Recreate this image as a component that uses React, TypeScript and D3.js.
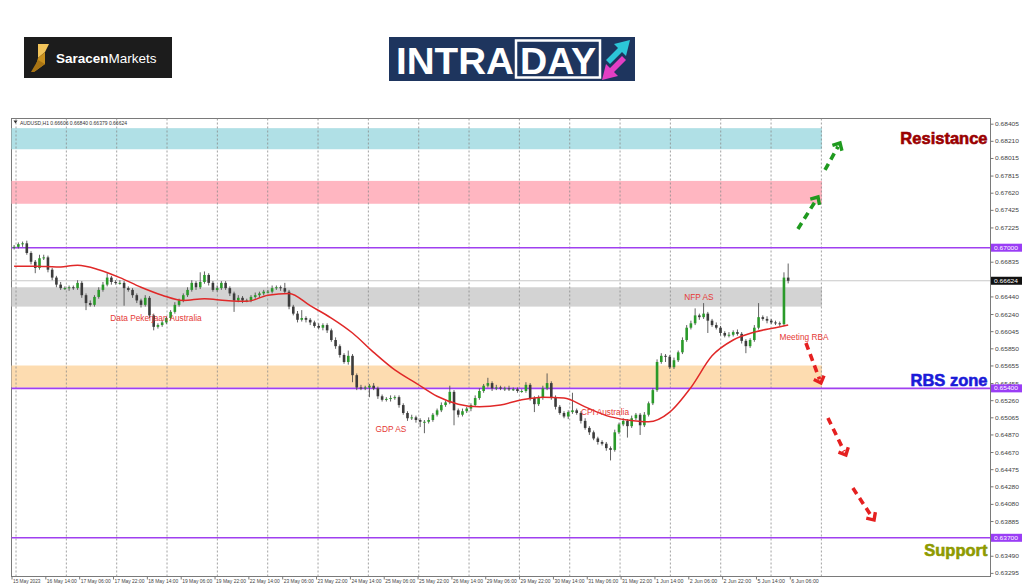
import React from "react";
import * as d3 from "d3";

const W = 1024;
const H = 587;

// ---------- DATA ----------
const symbolHeader = "AUDUSD,H1  0.66606 0.66840 0.66379 0.66624";
const firstOpen = 0.67;
// 2-hour candles (close prices)
const closes = [
  0.6701, 0.6704, 0.6705, 0.6694, 0.6684, 0.6677, 0.6688, 0.6689, 0.6675, 0.6666,
  0.6658, 0.6654, 0.6654, 0.6655, 0.6654, 0.666, 0.6646, 0.6637, 0.6635, 0.6644,
  0.6652, 0.6658, 0.6666, 0.6661, 0.666, 0.666, 0.6654, 0.6652, 0.6646, 0.664,
  0.6635, 0.6643, 0.6623, 0.661, 0.6612, 0.6615, 0.662, 0.6627, 0.6635, 0.664,
  0.6646, 0.6652, 0.666, 0.6655, 0.6661, 0.6669, 0.666, 0.6652, 0.6654, 0.666,
  0.6654, 0.6648, 0.664, 0.6643, 0.664, 0.664, 0.6644, 0.6646, 0.6648, 0.665,
  0.665, 0.6654, 0.6655, 0.6654, 0.665, 0.6633, 0.6625, 0.6618, 0.662, 0.6618,
  0.6615, 0.6611, 0.6609, 0.6612, 0.6606, 0.6595, 0.6588, 0.6578, 0.657, 0.6577,
  0.6555, 0.6541, 0.654, 0.6541, 0.6543, 0.654, 0.6531, 0.6527, 0.6528, 0.6529,
  0.653, 0.6521, 0.6512, 0.6506, 0.6507, 0.6504, 0.6502, 0.6502, 0.6504, 0.651,
  0.6515, 0.6521, 0.6524, 0.6536, 0.6515, 0.651, 0.6514, 0.6517, 0.6521, 0.6529,
  0.6537, 0.6543, 0.6546, 0.654, 0.6541, 0.654, 0.654, 0.6539, 0.6539, 0.6537,
  0.6537, 0.6544, 0.6529, 0.6522, 0.6529, 0.654, 0.6546, 0.653, 0.6519, 0.6512,
  0.6508, 0.6513, 0.6515, 0.6512, 0.6503, 0.6495, 0.649, 0.6483, 0.6479, 0.6477,
  0.6472, 0.647, 0.649, 0.6499, 0.6503, 0.6497, 0.6506, 0.651, 0.6498, 0.651,
  0.6523, 0.6538, 0.657, 0.6577, 0.6576, 0.6564, 0.6572, 0.6581, 0.6595, 0.6609,
  0.6614, 0.6623, 0.6621, 0.6625, 0.6617, 0.6612, 0.6609, 0.6603, 0.66, 0.6601,
  0.6604, 0.6602, 0.6594, 0.6588, 0.6595, 0.6609, 0.6621, 0.6619, 0.6617, 0.6615,
  0.6614, 0.6613, 0.6666, 0.66624,
];
// wick extensions in pips
const wickUp = [
  2, 2, 2, 3, 2, 2, 4, 3, 2, 2,
  2, 3, 2, 2, 2, 3, 2, 2, 3, 2,
  3, 3, 5, 2, 2, 3, 2, 2, 2, 2,
  2, 3, 2, 2, 2, 3, 2, 2, 3, 2,
  2, 3, 3, 2, 11, 4, 2, 2, 3, 2,
  2, 2, 2, 3, 2, 2, 2, 3, 2, 2,
  2, 3, 2, 2, 6, 2, 2, 3, 9, 2,
  2, 2, 3, 2, 2, 2, 3, 2, 2, 6,
  2, 2, 3, 2, 2, 3, 2, 2, 2, 3,
  2, 2, 2, 2, 3, 2, 2, 2, 3, 2,
  2, 3, 2, 7, 2, 2, 3, 2, 2, 3,
  3, 2, 6, 2, 3, 2, 2, 3, 2, 2,
  2, 3, 2, 2, 3, 3, 11, 2, 2, 2,
  2, 2, 20, 2, 2, 3, 2, 2, 2, 2,
  2, 2, 3, 2, 3, 2, 3, 2, 2, 3,
  2, 2, 3, 3, 2, 2, 3, 2, 3, 3,
  3, 8, 2, 12, 2, 2, 3, 2, 2, 3,
  2, 3, 2, 2, 2, 3, 16, 2, 3, 2,
  2, 2, 6, 16,
];
const wickDn = [
  2, 2, 3, 2, 3, 6, 2, 2, 3, 3,
  3, 2, 2, 3, 2, 2, 3, 8, 2, 2,
  2, 2, 2, 3, 2, 2, 20, 2, 3, 3,
  3, 2, 3, 4, 2, 2, 2, 3, 2, 2,
  2, 2, 2, 3, 2, 2, 3, 2, 2, 2,
  2, 3, 13, 2, 3, 2, 2, 2, 3, 2,
  2, 2, 2, 3, 2, 3, 2, 3, 2, 3,
  3, 2, 2, 3, 3, 2, 3, 3, 2, 3,
  8, 3, 2, 2, 11, 2, 3, 2, 2, 3,
  2, 3, 2, 3, 2, 3, 6, 13, 2, 2,
  2, 2, 2, 2, 17, 3, 2, 2, 3, 2,
  2, 2, 2, 3, 2, 2, 3, 2, 2, 2,
  2, 2, 3, 9, 2, 2, 2, 3, 3, 2,
  2, 3, 2, 2, 3, 2, 3, 2, 3, 2,
  3, 12, 2, 2, 2, 13, 2, 2, 11, 2,
  2, 2, 2, 2, 6, 2, 2, 2, 2, 2,
  2, 2, 3, 2, 14, 2, 2, 3, 2, 2,
  2, 2, 3, 8, 2, 2, 2, 2, 3, 2,
  2, 2, 2, 3,
];
// moving average (sampled at candle indices)
const maIdx = [0, 5, 10, 15, 20, 25, 30, 35, 40, 45, 50, 55, 60, 65, 70, 75, 80, 85, 90, 95, 100, 105, 110, 115, 120, 125, 130, 135, 140, 145, 150, 155, 160, 165, 170, 175, 180, 183];
const maVals = [0.6679, 0.6679, 0.6678, 0.668, 0.6675, 0.6666, 0.6655, 0.6646, 0.664, 0.6642, 0.664, 0.6639, 0.6646, 0.6648, 0.6634, 0.662, 0.6603, 0.6581, 0.6561, 0.6546, 0.6531, 0.6522, 0.6519, 0.6521, 0.6527, 0.653, 0.6529, 0.6519, 0.6509, 0.6504, 0.6502, 0.6513, 0.6541, 0.6577, 0.6595, 0.6604, 0.6609, 0.6612];

const timeLabels = [
  "15 May 2023", "16 May 14:00", "17 May 06:00", "17 May 22:00", "18 May 14:00", "19 May 06:00",
  "19 May 22:00", "22 May 14:00", "23 May 06:00", "23 May 22:00", "24 May 14:00", "25 May 06:00",
  "25 May 22:00", "26 May 14:00", "29 May 06:00", "29 May 22:00", "30 May 14:00", "31 May 06:00",
  "31 May 22:00", "1 Jun 14:00", "2 Jun 06:00", "2 Jun 22:00", "5 Jun 14:00", "6 Jun 06:00",
];
const labelEveryBars = 16;
const priceTicks = [
  0.68405, 0.6821, 0.68015, 0.67815, 0.6762, 0.67425, 0.67225, 0.66835, 0.6644, 0.6624,
  0.66045, 0.6585, 0.65655, 0.65455, 0.6526, 0.65065, 0.6487, 0.6467, 0.64475, 0.6428,
  0.6408, 0.63885, 0.6349, 0.63295,
];
const levelLines = [0.67, 0.654, 0.637];
const currentPrice = 0.66624;

const zoneHigh = [0.6836, 0.6776, 0.6655, 0.6566];
const zoneLow = [0.6812, 0.675, 0.6633, 0.6541];
const zoneEndBar = 383;

const gridStartBar = 1.9;
const gridStepBars = 23.8;
const gridCount = 17;

const eventText = ["Data Pekerjaan Australia", "GDP AS", "CPI Australia", "NFP AS", "Meeting RBA"];
const eventBar = [68.1, 179.2, 280.4, 324.8, 374.5];
const eventPrice = [0.662, 0.64934, 0.65134, 0.66436, 0.65981];

const zoneTitles = ["Resistance", "RBS zone", "Support"];
const zoneTitlePrice = [0.68248, 0.65495, 0.63561];

// arrows: [fromBar, fromPrice, toBar, toPrice]
const upArrows = [
  [371.6, 0.67213, 381.1, 0.67577],
  [384.4, 0.67884, 391.5, 0.68191],
];
const downArrows = [
  [375.4, 0.65916, 382.5, 0.65461],
  [385.8, 0.65063, 394.3, 0.64642],
  [397.6, 0.64266, 407.6, 0.63902],
];

// ---------- STYLE ----------
const zoneColors = ["#b0e0e6", "#ffb6c1", "#d3d3d3", "#fddcb0"];
const titleColors = ["#9a0000", "#1a1ad8", "#8e9a00"];
const purple = "#a040f0";
const font = "'Liberation Sans', Arial, sans-serif";

export default function App() {
  const left = 11.5, right = 990.5, top = 118.5, bottom = 576.5;
  const x = d3.scaleLinear().domain([0, 368]).range([12, 790.3]);
  const y = d3.scaleLinear().domain([0.63295, 0.68405]).range([573.4, 124.2]);

  const candles = closes.map((c, k) => {
    const o = k === 0 ? firstOpen : closes[k - 1];
    const hi = Math.max(o, c) + wickUp[k] * 1e-4;
    const lo = Math.min(o, c) - wickDn[k] * 1e-4;
    return { k, o, c, hi, lo };
  });

  const maLine = d3
    .line<number>()
    .x((_, i) => x(2 * maIdx[i] + 1))
    .y((v) => y(v))
    .curve(d3.curveMonotoneX)(maVals);

  const gridXs = d3.range(gridCount).map((j) => x(gridStartBar + j * gridStepBars));

  const arrow = (a: number[], color: string, key: string) => {
    const x1 = x(a[0]), y1 = y(a[1]), x2 = x(a[2]), y2 = y(a[3]);
    const ang = Math.atan2(y2 - y1, x2 - x1);
    const hl = 8;
    const sx = x2 - Math.cos(ang) * 4, sy = y2 - Math.sin(ang) * 4;
    const p1 = [x2 - hl * Math.cos(ang - 0.75), y2 - hl * Math.sin(ang - 0.75)];
    const p2 = [x2 - hl * Math.cos(ang + 0.75), y2 - hl * Math.sin(ang + 0.75)];
    return (
      <g key={key}>
        <line x1={x1} y1={y1} x2={sx} y2={sy} stroke={color} strokeWidth={3.6} strokeDasharray="7 5" />
        <path d={`M${p1[0]},${p1[1]} L${x2},${y2} L${p2[0]},${p2[1]}`} fill="none" stroke={color} strokeWidth={3.4} strokeLinejoin="miter" />
      </g>
    );
  };

  return (
    <svg width={W} height={H} style={{ position: "absolute", left: 0, top: 0, background: "#fff" }} fontFamily={font}>
      <rect x={0} y={0} width={W} height={H} fill="#fff" />

      {/* Logos */}
      <g>
        <rect x={24} y={37} width={148} height={41} fill="#1c1c1c" />
        <path d="M38,44 L49,44 L45,52 L38,58 Z" fill="#f2c45a" />
        <path d="M38,58 L45,52 L45,64 L34,72 Z" fill="#c8901e" />
        <path d="M45,64 L34,72 L31,72 L38,60 Z" fill="#a87414" />
        <text x={56} y={63} fontSize={13.5} fill="#fff">
          <tspan fontWeight="bold">Saracen</tspan>
          <tspan>Markets</tspan>
        </text>
        <rect x={389} y={37} width={246} height={44} fill="#1e355e" />
        <text x={396} y={74} fontSize={37} fontWeight="bold" fill="#fff" textLength={118} lengthAdjust="spacingAndGlyphs">INTRA</text>
        <rect x={516} y={40.5} width={84} height={37} fill="none" stroke="#fff" strokeWidth={2.5} />
        <text x={558} y={74} fontSize={37} fontWeight="bold" fill="#fff" textAnchor="middle" textLength={76} lengthAdjust="spacingAndGlyphs">DAY</text>
        <path d="M606,60 L618,48 L614,44 L630,40 L626,56 L622,52 L610,64 Z" fill="#2cc6d8" />
        <path d="M626,60 L614,72 L618,76 L602,80 L606,64 L610,68 L622,56 Z" fill="#e33fc4" />
      </g>

      {/* Chart frame */}
      <rect x={left} y={top} width={right - left} height={bottom - top} fill="#fff" stroke="#7a7a7a" strokeWidth={1} />

      {/* Zones */}
      {zoneHigh.map((h, i) => (
        <rect key={`z${i}`} x={x(0) - 0.5} y={y(h)} width={x(zoneEndBar) - x(0) + 0.5} height={y(zoneLow[i]) - y(h)} fill={zoneColors[i]} />
      ))}

      {/* Vertical grid */}
      {gridXs.map((gx, i) => (
        <line key={`g${i}`} x1={gx} x2={gx} y1={top} y2={bottom} stroke="#8a8a8a" strokeWidth={0.8} strokeDasharray="2 2" />
      ))}

      {/* current price line */}
      <line x1={left} x2={right} y1={y(currentPrice)} y2={y(currentPrice)} stroke="#c8c8c8" strokeWidth={1} />

      {/* level lines */}
      {levelLines.map((v, i) => (
        <line key={`l${i}`} x1={left} x2={right} y1={y(v)} y2={y(v)} stroke={purple} strokeWidth={1.6} />
      ))}

      {/* Candles */}
      {candles.map((d) => {
        const cx = x(2 * d.k + 1);
        const bull = d.c >= d.o;
        const yt = y(Math.max(d.o, d.c));
        const yb = y(Math.min(d.o, d.c));
        return (
          <g key={`c${d.k}`}>
            <line x1={cx} x2={cx} y1={y(d.hi)} y2={y(d.lo)} stroke="#505050" strokeWidth={0.9} />
            <rect x={cx - 1.3} y={yt} width={2.6} height={Math.max(1, yb - yt)} fill={bull ? "#2a9a2a" : "#3c3c3c"} />
          </g>
        );
      })}

      {/* Moving average */}
      <path d={maLine || ""} fill="none" stroke="#e02828" strokeWidth={1.5} />

      {/* Event labels */}
      {eventText.map((t, i) => (
        <text key={`e${i}`} x={x(eventBar[i])} y={y(eventPrice[i]) + 3} fontSize={8.3} fill="#e53935" textAnchor="middle">{t}</text>
      ))}

      {/* Arrows */}
      {upArrows.map((a, i) => arrow(a, "#1f9a1f", `ua${i}`))}
      {downArrows.map((a, i) => arrow(a, "#e52020", `da${i}`))}

      {/* Zone titles */}
      {zoneTitles.map((t, i) => (
        <text key={`t${i}`} x={right - 3} y={y(zoneTitlePrice[i]) + 6} fontSize={16.5} fontWeight="bold" fill={titleColors[i]} stroke={titleColors[i]} strokeWidth={0.6} textAnchor="end">{t}</text>
      ))}

      {/* header */}
      <path d={`M13.5,120.5 L17.5,120.5 L15.5,123.5 Z`} fill="#333" />
      <text x={20} y={124.5} fontSize={5.6} fill="#333" textLength={107} lengthAdjust="spacingAndGlyphs">{symbolHeader}</text>

      {/* Right axis */}
      <line x1={right} x2={right} y1={top} y2={bottom} stroke="#7a7a7a" />
      {priceTicks.map((v, i) => (
        <g key={`p${i}`}>
          <line x1={right} x2={right + 3} y1={y(v)} y2={y(v)} stroke="#7a7a7a" />
          <text x={right + 4.5} y={y(v) + 2} fontSize={5.8} fill="#444" textLength={24} lengthAdjust="spacingAndGlyphs">{v.toFixed(5)}</text>
        </g>
      ))}
      {levelLines.map((v, i) => (
        <g key={`pl${i}`}>
          <rect x={right + 0.5} y={y(v) - 4} width={31} height={8} fill="#9a3df5" />
          <text x={right + 3.5} y={y(v) + 2} fontSize={5.8} fill="#fff" textLength={24} lengthAdjust="spacingAndGlyphs">{v.toFixed(5)}</text>
        </g>
      ))}
      <rect x={right + 0.5} y={y(currentPrice) - 4} width={31} height={8} fill="#111" />
      <text x={right + 3.5} y={y(currentPrice) + 2} fontSize={5.8} fill="#fff" textLength={24} lengthAdjust="spacingAndGlyphs">{currentPrice.toFixed(5)}</text>

      {/* Bottom axis */}
      {timeLabels.map((t, i) => {
        const lx = x(i * labelEveryBars);
        return (
          <g key={`tl${i}`}>
            <line x1={lx} x2={lx} y1={bottom} y2={bottom + 3} stroke="#7a7a7a" />
            <text x={lx + 1} y={bottom + 6.5} fontSize={5.6} fill="#444" textLength={t.length * 2.5} lengthAdjust="spacingAndGlyphs">{t}</text>
          </g>
        );
      })}
    </svg>
  );
}
